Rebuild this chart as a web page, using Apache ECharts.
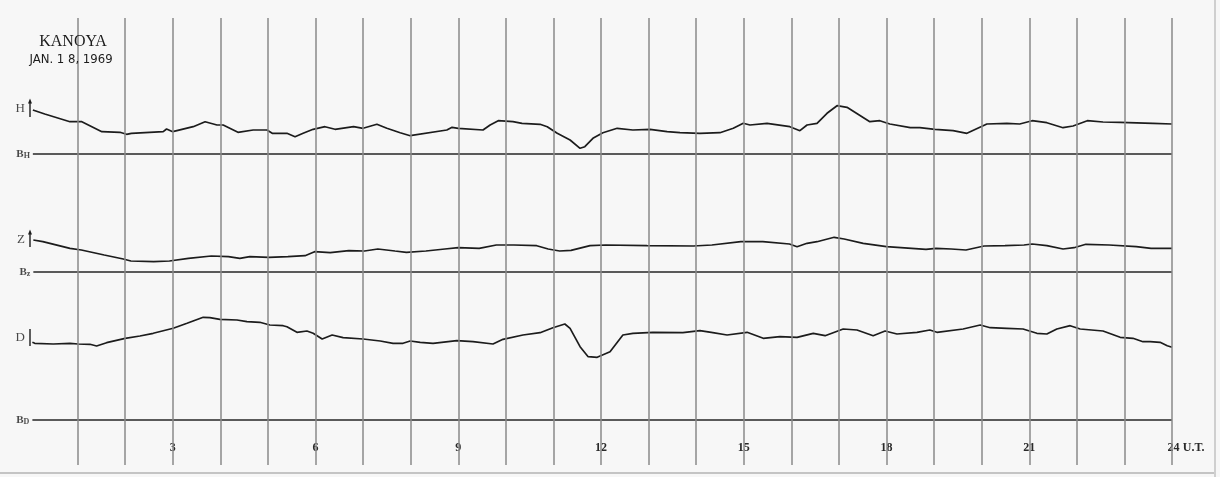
<!DOCTYPE html>
<html><head><meta charset="utf-8">
<script src="https://cdn.jsdelivr.net/npm/echarts@6/dist/echarts.min.js"></script>
<style>html,body{margin:0;padding:0;background:#f7f7f7}#c{width:1220px;height:477px}</style>
</head><body><div id="c"></div>
<script>
// ---- data (UT hours, deflection above each baseline, chart units) ----
const hourLines = [1,2,3,4,5,6,7,8,9,10,11,12,13,14,15,16,17,18,19,20,21,22,23,24];
const tickHours = [3,6,9,12,15,18,21,24];
const tickLabels = ['3','6','9','12','15','18','21','24'];
const componentNames = ['H','Z','D'];
const baselineNames = ['H','z','D'];
const baselineLevels = [311,193,45];
const calibTop = [53,40,91];
const calibBottom = [37,25,74];

const hHours = [0.06,0.31,0.84,1.09,1.51,1.89,2.03,2.13,2.8,2.87,3.0,3.43,3.68,3.93,4.06,4.37,4.69,4.98,5.09,5.4,5.57,5.74,5.95,6.2,6.41,6.8,7.0,7.29,7.5,7.78,7.99,8.76,8.87,9.0,9.52,9.67,9.84,10.15,10.34,10.72,10.87,11.08,11.35,11.56,11.66,11.83,12.04,12.34,12.67,13.03,13.39,13.66,14.08,14.5,14.78,14.99,15.13,15.49,15.97,16.18,16.33,16.54,16.75,16.96,17.17,17.65,17.86,18.07,18.5,18.7,19.02,19.4,19.69,20.11,20.53,20.8,21.06,21.37,21.71,21.92,22.22,22.55,22.91,23.6,24.0];
const hValues = [44,40,32.3,32.3,22.3,21.7,19.7,20.7,22.3,25,22.3,27.3,32.3,29,29,21.7,24,24,20.7,20.7,17.3,20.7,24.7,27.3,24.7,27.3,25.7,29.7,25.7,21.3,18.3,24,26.7,25.7,24,29,33.3,32.3,30.7,29.7,27.3,20.7,14,5.7,7.3,15.7,21.3,25.7,24,24.7,22.3,21.3,20.7,21.3,25.7,30.7,29,30.7,27.3,23.3,29,30.7,40.7,48.3,46.7,32.3,33.3,30,26.3,26.3,24.7,23.3,20.7,30,30.7,30,33.3,31.3,26.3,28,33.3,32,31.7,30.7,30];

const zHours = [0.07,0.27,0.84,1.08,1.56,1.96,2.12,2.6,2.93,3.33,3.81,4.17,4.41,4.62,5.02,5.42,5.78,5.98,6.31,6.7,7.03,7.31,7.67,7.91,8.32,8.72,9.0,9.44,9.8,10.17,10.65,10.89,11.13,11.37,11.77,12.1,12.97,13.94,14.33,14.94,15.4,15.96,16.12,16.33,16.54,16.9,17.11,17.51,18.0,18.83,19.04,19.36,19.67,20.05,20.49,20.89,21.06,21.37,21.71,21.94,22.19,22.68,23.25,23.56,24.0];
const zValues = [32,30.3,23.7,22,17,13,11,10.3,11,13.7,16,15.3,13.7,15.3,14.7,15.3,16.3,20.3,19.3,21.3,21,23,21,19.7,21,23,24.3,23.7,27,27,26.3,23,21,21.7,26.3,27,26.3,26,27,30.3,30.3,28,25.3,28.7,30.3,34.7,33,28.7,25.3,22.7,23.7,23,22,26,26.3,27,28,26.3,23,24.3,27.7,27,25.3,23.7,23.7];

const dHours = [0.05,0.1,0.49,0.84,1.01,1.26,1.4,1.61,2.0,2.31,2.59,3.01,3.3,3.64,3.78,3.99,4.35,4.56,4.83,5.04,5.32,5.4,5.61,5.82,5.95,6.14,6.35,6.58,7.0,7.36,7.63,7.84,7.99,8.2,8.47,8.97,9.31,9.73,9.94,10.36,10.72,10.99,11.24,11.35,11.56,11.73,11.92,12.19,12.46,12.67,13.09,13.72,14.08,14.35,14.65,15.07,15.41,15.76,16.12,16.46,16.71,17.09,17.38,17.72,17.97,18.22,18.64,18.91,19.06,19.61,19.97,20.18,20.53,20.87,21.16,21.37,21.58,21.86,22.07,22.55,22.91,23.18,23.39,23.54,23.75,23.9,24.0];
const dValues = [77.7,76.7,76,76.7,76,75.7,74,77.3,81.7,84,86.7,91.7,96.7,102.7,102.3,100.7,100,98.3,97.7,95,94.3,93.3,87.7,89,86.7,81,85,82.3,81,79,76.7,76.7,79,77.7,76.7,79.3,78.3,76,80.7,85,87.3,92.3,96,91.7,73.3,63.3,62.7,68.3,85,86.7,87.7,87.3,89.3,87.3,85,87.7,81.7,83.3,82.7,86.7,84.3,91,90,84.3,89,86,87.7,90,87.7,91,95,92.3,91.7,91,86.7,86,91,94.3,91,89,82.7,81.7,78.3,78.3,77.7,74.3,72.7];

const traceHours = [hHours, zHours, dHours];
const traceValues = [hValues, zValues, dValues];

// ---- chart ----
const INK = '#1c1c1c';
const series = [];

series.push({
  type:'line', data:[], silent:true,
  markLine:{ silent:true, symbol:'none', animation:false,
    label:{show:false},
    lineStyle:{color:'#8a8a8a', width:1.5, type:'solid'},
    data: hourLines.map(h => ({xAxis:h})) }
});

componentNames.forEach((name, k) => {
  const base = baselineLevels[k];
  series.push({
    type:'line', symbol:'none', smooth:false, animation:false,
    lineStyle:{color:INK, width:1.7},
    data: traceHours[k].map((h,i) => [h, base + traceValues[k][i]])
  });
  series.push({
    type:'line', symbol:'none', animation:false,
    lineStyle:{color:'#262626', width:1.4},
    data: [[traceHours[k][0], base], [24, base]]
  });
  series.push({
    type:'line', animation:false, clip:false,
    lineStyle:{color:INK, width:1.4},
    data: [
      {value:[0, base + calibBottom[k]], symbol:'none'},
      {value:[0, base + calibTop[k]], symbol: k < 2 ? 'triangle' : 'none', symbolSize:[4,5],
       itemStyle:{color:INK}}
    ],
    symbol:'none'
  });
  series.push({
    type:'scatter', symbolSize:0, clip:false, animation:false,
    data:[{value:[0, base + (calibTop[k] + calibBottom[k]) / 2], name:name}],
    label:{show:true, position:'left', distance:5, formatter:'{b}',
      fontFamily:'Liberation Serif', fontSize:13, color:INK}
  });
  series.push({
    type:'scatter', symbolSize:0, clip:false, animation:false,
    data:[{value:[traceHours[k][0], base], name:baselineNames[k]}],
    label:{show:true, position:'left', distance:3,
      formatter: p => '{b|B}{s|' + p.name + '}',
      rich:{ b:{fontFamily:'Liberation Serif', fontSize:11, fontWeight:'bold', color:INK},
             s:{fontFamily:'Liberation Serif', fontSize:8, fontWeight:'bold', color:INK, padding:[3,0,0,0]} } }
  });
});

const chart = echarts.init(document.getElementById('c'), null, {renderer:'canvas'});
chart.setOption({
  backgroundColor:'#f7f7f7',
  animation:false,
  title:[
    {text:'KANOYA', left:68, top:29, textAlign:'center',
     textStyle:{fontFamily:'Liberation Serif', fontSize:16, fontWeight:'normal', color:INK}},
    {text:'JAN. 1 8, 1969', left:66, top:48, textAlign:'center',
     textStyle:{fontFamily:'Liberation Sans Narrow, DejaVu Sans Condensed, sans-serif', fontSize:13, fontWeight:'normal', color:INK}}
  ],
  grid:{left:30, right:48, top:18, bottom:12, containLabel:false},
  xAxis:{type:'value', min:0, max:24, interval:1,
    axisLine:{show:false}, axisTick:{show:false}, splitLine:{show:false},
    axisLabel:{inside:true, margin:11, color:'#2a2a2a',
      formatter: v => {
        const i = tickHours.indexOf(v);
        if (i < 0) return '';
        if (v === 24) return '{sp|}{n|' + tickLabels[i] + '} {n|U.T.}';
        return '{n|' + tickLabels[i] + '}';
      },
      rich:{ n:{fontFamily:'Liberation Serif', fontSize:12, fontWeight:'bold', color:'#2a2a2a'},
             sp:{width:28} } }
  },
  yAxis:{type:'value', min:0, max:447, show:false, splitLine:{show:false}},
  graphic:[
    {type:'line', shape:{x1:0, y1:473, x2:1215, y2:473}, style:{stroke:'#c4c4c4', lineWidth:2}, silent:true},
    {type:'line', shape:{x1:1215, y1:0, x2:1215, y2:477}, style:{stroke:'#cfcfcf', lineWidth:2}, silent:true}
  ],
  series: series
});
</script>
</body></html>
